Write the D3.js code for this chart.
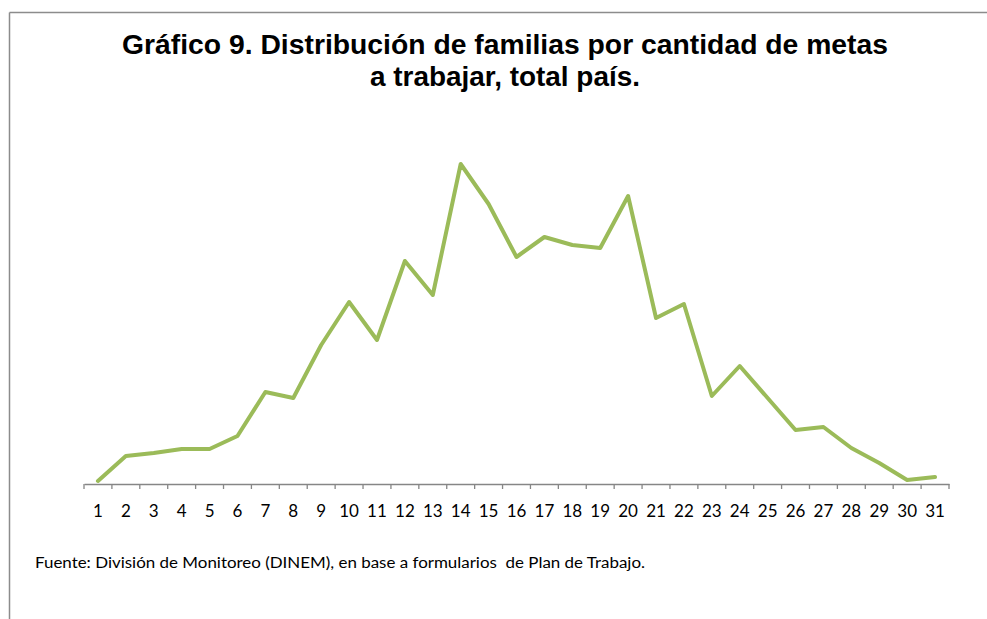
<!DOCTYPE html>
<html>
<head>
  <meta charset="utf-8">
  <title>Gráfico 9</title>
  <style type="text/css">
  body { margin: 0; background: #fff; }
  svg { display: block; }
  .tick text { font-family: Lato, "Open Sans", sans-serif; }
  </style>
</head>
<body>
<script src="https://d3js.org/d3.v7.min.js"></script>
<div id="chart"></div>
<script>

// cantidad de metas (x categories)
var metas = d3.range(1, 32).map(String);

// relative number of families per goal count (no y axis in the source, read from line height)
var familias = [3, 28, 31, 35, 35, 48, 92, 86, 139, 182, 144, 223, 189, 320, 280,
                227, 247, 239, 236, 288, 166, 180, 88, 118, 86, 54, 57, 36, 21, 4, 7];

var titleLines = ["Gráfico 9. Distribución de familias por cantidad de metas",
                  "a trabajar, total país."];
var fuente = "Fuente: División de Monitoreo (DINEM), en base a formularios  de Plan de Trabajo.";

var width = 987,
    height = 619;

var svg = d3.select("#chart")
  .append("svg")
    .attr("width", width)
    .attr("height", height);

// frame (top and left borders)
svg.append("line")
  .attr("x1", 9.5).attr("y1", 12.5).attr("x2", width).attr("y2", 12.5)
  .attr("stroke", "#8c8c8c").attr("stroke-width", 1.5);
svg.append("line")
  .attr("x1", 9.5).attr("y1", 12.5).attr("x2", 9.5).attr("y2", height)
  .attr("stroke", "#8c8c8c").attr("stroke-width", 1.5);

// title
var titleWidths = [766, 270];
svg.selectAll(".title")
  .data(titleLines)
  .enter()
  .append("text")
    .attr("class", "title")
    .attr("x", 505)
    .attr("y", function(d, i) { return 54 + i * 32; })
    .attr("text-anchor", "middle")
    .attr("textLength", function(d, i) { return titleWidths[i]; })
    .attr("lengthAdjust", "spacingAndGlyphs")
    .style("font-family", "'Liberation Sans', Arial, sans-serif")
    .style("font-weight", "bold")
    .style("font-size", "27px")
    .text(function(d) { return d; });

// scales
var x = d3.scaleBand()
  .domain(metas)
  .range([84, 949]);

var y = d3.scaleLinear()
  .domain([0, 320])
  .range([484, 164]);

// x axis, ticks between the categories like Excel
var xAxis = svg.append("g")
  .attr("transform", "translate(0," + 484 + ")")
  .call(d3.axisBottom(x).tickSize(0).tickPadding(21));

xAxis.select(".domain")
  .attr("stroke", "#868686")
  .attr("stroke-width", 1.3);
xAxis.selectAll(".tick text")
  .style("font-size", "17px")
  .attr("fill", "#000");

var bounds = metas.map(function(d) { return x(d); }).concat([x.range()[1]]);
xAxis.selectAll(".sep")
  .data(bounds)
  .enter()
  .append("line")
    .attr("class", "sep")
    .attr("x1", function(d) { return d; })
    .attr("x2", function(d) { return d; })
    .attr("y1", 0)
    .attr("y2", 5)
    .attr("stroke", "#868686")
    .attr("stroke-width", 1.3);

// the line
var line = d3.line()
  .x(function(d, i) { return x(metas[i]) + x.bandwidth() / 2; })
  .y(function(d) { return y(d); });

svg.append("path")
  .datum(familias)
  .attr("d", line)
  .attr("fill", "none")
  .attr("stroke", "#9bbb59")
  .attr("stroke-width", 4)
  .attr("stroke-linejoin", "round")
  .attr("stroke-linecap", "round");

// source note
svg.append("text")
  .attr("x", 35)
  .attr("y", 568)
  .attr("textLength", 610)
  .attr("lengthAdjust", "spacingAndGlyphs")
  .style("font-family", "Lato, 'Open Sans', sans-serif")
  .style("font-size", "14.5px")
  .style("white-space", "pre")
  .text(fuente);

</script>
</body>
</html>
